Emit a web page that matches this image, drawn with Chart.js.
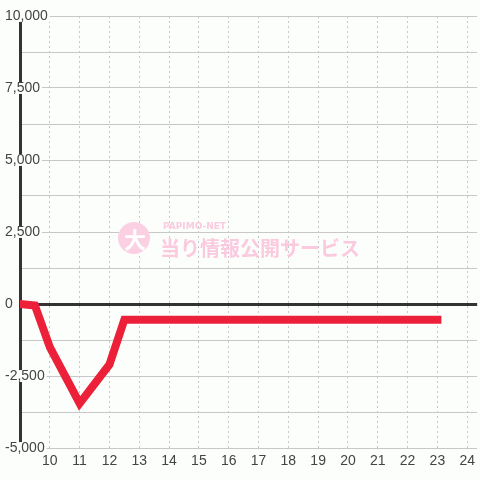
<!DOCTYPE html>
<html>
<head>
<meta charset="utf-8">
<script src="https://cdn.jsdelivr.net/npm/chart.js@4/dist/chart.umd.min.js"></script>
<style>
  html, body { margin: 0; padding: 0; background: #fcfefc; }
  #wrap { width: 480px; height: 480px; }
</style>
</head>
<body>
<div id="wrap"><canvas id="chart"></canvas></div>
<script>
// hour of day and running total (balls)
var hours = [9, 9.5, 10, 11, 12, 12.5, 23];
var balance = [0, -50, -1500, -3450, -2100, -550, -550];

var xTicks = [10, 11, 12, 13, 14, 15, 16, 17, 18, 19, 20, 21, 22, 23, 24];
var yLabels = [-5000, -2500, 0, 2500, 5000, 7500, 10000];

var punten = [];
for (let i = 0; i < hours.length; i++) {
    punten.push({ x: hours[i], y: balance[i] });
}

// watermark drawn under the line
var watermark = {
    id: 'watermark',
    beforeDatasetsDraw: function (chart) {
        var ctx = chart.ctx;
        ctx.save();
        ctx.fillStyle = '#fbd0e2';
        ctx.beginPath();
        ctx.arc(134, 238, 16, 0, Math.PI * 2);
        ctx.fill();
        ctx.fillStyle = '#ffffff';
        ctx.font = 'bold 22px "Noto Sans CJK JP"';
        ctx.textAlign = 'center';
        ctx.textBaseline = 'middle';
        ctx.fillText('大', 135, 240);
        ctx.fillStyle = '#fbcadf';
        ctx.textAlign = 'left';
        ctx.font = 'bold 9px "DejaVu Sans"';
        ctx.fillText('PAPIMO-NET', 163, 227);
        ctx.font = 'bold 20px "Noto Sans CJK JP"';
        ctx.fillText('当り情報公開サービス', 160, 248);
        ctx.restore();
    }
};

var config = {
    type: 'line',
    data: {
        datasets: [{
            data: punten,
            borderColor: '#ec2038',
            borderWidth: 8,
            borderCapStyle: 'square',
            pointRadius: 0,
            tension: 0,
            fill: false
        }]
    },
    options: {
        animation: false,
        responsive: true,
        maintainAspectRatio: false,
        layout: { padding: { top: 16, left: 4, right: 0, bottom: 0 } },
        plugins: { legend: { display: false }, tooltip: { enabled: false } },
        scales: {
            x: {
                type: 'linear',
                min: 9,
                max: 24 + 1 / 3,
                afterBuildTicks: function (scale) {
                    scale.ticks = xTicks.map(function (v) { return { value: v }; });
                },
                afterFit: function (scale) { scale.height = 32; },
                border: { display: false, dash: [2, 3] },
                grid: { color: '#c8c8c8', lineWidth: 1, drawTicks: false },
                ticks: {
                    padding: 5,
                    color: '#444',
                    font: { family: '"Liberation Sans", Arial', size: 14 },
                    maxRotation: 0,
                    autoSkip: false
                }
            },
            y: {
                min: -5000,
                max: 10000,
                afterFit: function (scale) { scale.width = 16; },
                border: { display: true, color: '#333', width: 3 },
                grid: {
                    drawTicks: false,
                    color: function (c) { return c.tick && c.tick.value === 0 ? '#333' : '#c8c8c8'; },
                    lineWidth: function (c) { return c.tick && c.tick.value === 0 ? 3 : 1; }
                },
                ticks: {
                    stepSize: 1250,
                    mirror: true,
                    crossAlign: 'near',
                    padding: -15,
                    color: '#444',
                    font: { family: '"Liberation Sans", Arial', size: 14, lineHeight: 0.85 },
                    showLabelBackdrop: function (c) { return yLabels.indexOf(c.tick.value) >= 0; },
                    backdropColor: '#fcfefc',
                    backdropPadding: { top: 0, bottom: 0, left: 1, right: 2 },
                    callback: function (v) {
                        if (yLabels.indexOf(v) < 0) return '';
                        return v.toLocaleString('en-US');
                    }
                }
            }
        }
    },
    plugins: [watermark]
};

var kaavio = new Chart(document.getElementById('chart'), config);
</script>
</body>
</html>
